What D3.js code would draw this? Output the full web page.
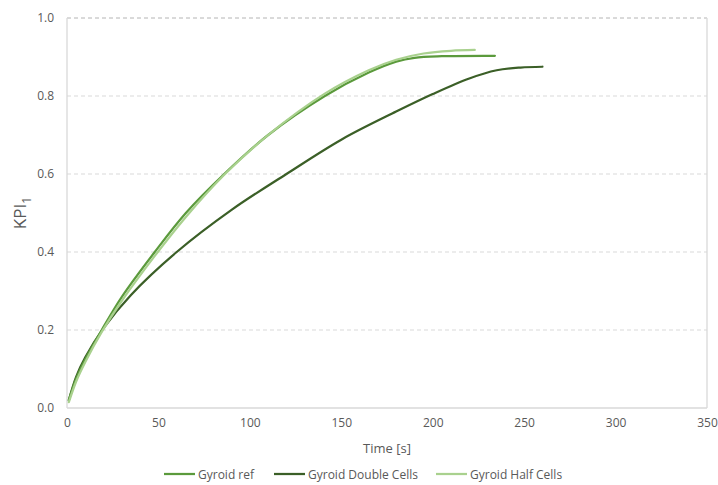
<!DOCTYPE html>
<html>
<head>
<meta charset="utf-8">
<script src="https://cdn.jsdelivr.net/npm/d3@7"></script>
<style>
  html, body { margin: 0; padding: 0; background: #fff; }
  svg { display: block; font-family: "Open Sans", "Liberation Sans", sans-serif; }
</style>
</head>
<body>
<svg id="chart" width="718" height="485"></svg>
<script>
// Series: time [s] and KPI1 values
const refTime = [1, 5, 10, 19, 30, 48, 65, 86, 110, 141, 165, 180, 190, 205, 234];
const refKPI = [0.02, 0.075, 0.125, 0.2, 0.285, 0.4, 0.5, 0.6, 0.7, 0.8, 0.86, 0.888, 0.898, 0.902, 0.903];

const doubleTime = [1, 5, 10, 20, 35, 60, 90, 120, 150, 180, 200, 220, 235, 248, 260];
const doubleKPI = [0.02, 0.08, 0.13, 0.205, 0.29, 0.4, 0.508, 0.6, 0.688, 0.76, 0.805, 0.845, 0.866, 0.873, 0.875];

const halfTime = [1, 5, 10, 19, 30, 48, 65, 86, 110, 141, 165, 180, 195, 210, 223];
const halfKPI = [0.015, 0.068, 0.118, 0.195, 0.275, 0.39, 0.49, 0.598, 0.7, 0.806, 0.866, 0.893, 0.909, 0.916, 0.918];

const seriesNames = ["Gyroid ref", "Gyroid Double Cells", "Gyroid Half Cells"];
const seriesColors = ["#5b9a3c", "#3b5f27", "#a9d18e"];

const xTicks = [0, 50, 100, 150, 200, 250, 300, 350];
const yTicks = [0.0, 0.2, 0.4, 0.6, 0.8, 1.0];

const svg = d3.select("#chart");
const plotL = 67, plotR = 707, plotT = 18, plotB = 408;

const x = d3.scaleLinear().domain([0, 350]).range([plotL, plotR]);
const y = d3.scaleLinear().domain([0, 1]).range([plotB, plotT]);

// Horizontal gridlines
svg.append("g")
  .selectAll("line")
  .data(yTicks.filter(v => v > 0))
  .join("line")
  .attr("x1", plotL).attr("x2", plotR)
  .attr("y1", d => y(d)).attr("y2", d => y(d))
  .attr("stroke", d => d === 1 ? "#b4b4b4" : "#d9d9d9")
  .attr("stroke-width", 1)
  .attr("stroke-dasharray", "4,3");

// Plot frame: left, bottom and right edges
const frame = svg.append("g").attr("stroke", "#d9d9d9").attr("stroke-width", 1.3);
frame.append("line").attr("x1", plotL).attr("x2", plotL).attr("y1", plotT).attr("y2", plotB);
frame.append("line").attr("x1", plotL).attr("x2", plotR).attr("y1", plotB).attr("y2", plotB);
frame.append("line").attr("x1", plotR).attr("x2", plotR).attr("y1", plotT).attr("y2", plotB);

// Y axis labels
const yAxis = svg.append("g")
  .attr("transform", `translate(${plotL},0)`)
  .call(d3.axisLeft(y).tickValues(yTicks).tickFormat(d3.format(".1f")).tickSize(0).tickPadding(13));
yAxis.select(".domain").remove();
yAxis.selectAll("text").attr("fill", "#595959").attr("font-size", 12).attr("font-family", "Open Sans, sans-serif");

// X axis labels
const xAxis = svg.append("g")
  .attr("transform", `translate(0,${plotB})`)
  .call(d3.axisBottom(x).tickValues(xTicks).tickFormat(d3.format("d")).tickSize(0).tickPadding(10));
xAxis.select(".domain").remove();
xAxis.selectAll("text").attr("fill", "#595959").attr("font-size", 12).attr("font-family", "Open Sans, sans-serif");

// Axis titles
svg.append("text")
  .attr("x", (plotL + plotR) / 2).attr("y", 453)
  .attr("text-anchor", "middle")
  .attr("fill", "#595959").attr("font-size", 13)
  .text("Time [s]");

const yTitle = svg.append("text")
  .attr("transform", "translate(26,213) rotate(-90)")
  .attr("text-anchor", "middle")
  .attr("fill", "#595959").attr("font-size", 17);
yTitle.append("tspan").text("KPI");
yTitle.append("tspan").attr("font-size", 12).attr("dy", 5).text("1");

// Lines
const line = d3.line().x(d => x(d[0])).y(d => y(d[1])).curve(d3.curveCatmullRom.alpha(0.5));
const seriesData = [
  d3.zip(refTime, refKPI),
  d3.zip(doubleTime, doubleKPI),
  d3.zip(halfTime, halfKPI)
];
// draw order: double, ref, half on top
[1, 0, 2].forEach(i => {
  svg.append("path")
    .datum(seriesData[i])
    .attr("fill", "none")
    .attr("stroke", seriesColors[i])
    .attr("stroke-width", 2.25)
    .attr("stroke-linecap", "round")
    .attr("d", line);
});

// Legend
const legendX = [164, 274, 436];
const legend = svg.append("g");
seriesNames.forEach((name, i) => {
  const g = legend.append("g").attr("transform", `translate(${legendX[i]},474)`);
  g.append("line").attr("x1", 0).attr("x2", 31).attr("y1", 0).attr("y2", 0)
    .attr("stroke", seriesColors[i]).attr("stroke-width", 2.25);
  g.append("text").attr("x", 34).attr("y", 4.5)
    .attr("fill", "#595959").attr("font-size", 12)
    .text(name);
});
</script>
</body>
</html>
